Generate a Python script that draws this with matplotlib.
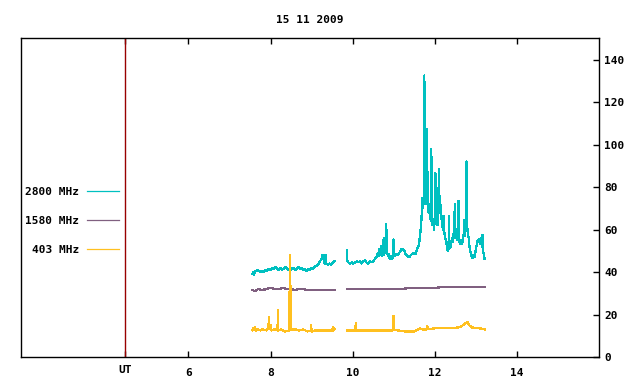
import numpy as np
import matplotlib
matplotlib.use("Agg")
import matplotlib.pyplot as plt
from matplotlib.transforms import ScaledTranslation

title = "15 11 2009"
ut_pos = 4.46
xtick_vals = [6, 8, 10, 12, 14]
ytick_vals = [0, 20, 40, 60, 80, 100, 120, 140]
labels = ["2800 MHz", "1580 MHz", "403 MHz"]
colors = ["#00C0C0", "#806080", "#FFC020"]

# 2800 MHz
t2800 = [7.56, 7.58, 7.60, 7.62, 7.64, 7.68, 7.72, 7.76, 7.80, 7.84, 7.88, 7.92, 7.96, 8.00,
         8.04, 8.08, 8.12, 8.16, 8.20, 8.24, 8.28, 8.32, 8.36, 8.40, 8.44, 8.48, 8.52, 8.56,
         8.60, 8.64, 8.68, 8.72, 8.76, 8.80, 8.84, 8.88, 8.92, 8.96, 9.00, 9.04, 9.08, 9.12,
         9.16, 9.20, 9.24, 9.27, 9.30, 9.32, 9.34, 9.36, 9.40, 9.44, 9.48, 9.52, 9.56,
         9.70,
         9.86, 9.87, 9.90, 9.94, 9.98, 10.02, 10.06, 10.10, 10.14, 10.18, 10.22, 10.26, 10.30,
         10.34, 10.38, 10.42, 10.46, 10.50, 10.54, 10.58, 10.62, 10.64, 10.66, 10.68, 10.70,
         10.72, 10.74, 10.76, 10.78, 10.80, 10.82, 10.84, 10.86, 10.88, 10.90, 10.92, 10.94,
         10.96, 10.99, 11.00, 11.02, 11.06, 11.10, 11.14, 11.18, 11.22, 11.26, 11.30, 11.34,
         11.38, 11.42, 11.46, 11.50, 11.54, 11.58, 11.62, 11.66, 11.68, 11.70, 11.72, 11.74,
         11.75, 11.76, 11.78, 11.80, 11.81, 11.83, 11.85, 11.87, 11.89, 11.91, 11.92, 11.93,
         11.95, 11.97, 11.99, 12.01, 12.02, 12.03, 12.05, 12.07, 12.09, 12.11, 12.12, 12.14,
         12.16, 12.18, 12.20, 12.22, 12.24, 12.26, 12.28, 12.30, 12.32, 12.34, 12.35, 12.36,
         12.38, 12.40, 12.42, 12.44, 12.46, 12.48, 12.49, 12.50, 12.52, 12.54, 12.56, 12.58,
         12.59, 12.61, 12.63, 12.65, 12.67, 12.69, 12.71, 12.72, 12.73, 12.75, 12.77, 12.78,
         12.79, 12.81, 12.83, 12.85, 12.87, 12.89, 12.91, 12.93, 12.95, 12.97, 12.99, 13.01,
         13.03, 13.05, 13.07, 13.09, 13.11, 13.13, 13.15, 13.17, 13.18, 13.20, 13.22]
v2800 = [39.0, 40.0, 38.5, 40.5, 40.5, 41.0, 40.5, 40.0, 40.5, 40.0, 41.0, 40.5, 41.5, 41.0,
         42.0, 41.5, 42.5, 41.5, 41.0, 42.0, 41.0, 41.5, 42.5, 41.5, 41.0, 40.5, 41.5, 42.0,
         41.0, 41.5, 42.5, 41.5, 42.0, 41.0, 41.5, 40.5, 41.5, 41.0, 42.0, 41.5, 42.5, 43.0,
         43.5, 45.0, 46.0, 48.0, 47.0, 44.0, 48.0, 44.0, 43.5, 44.0, 43.5, 44.5, 45.0,
         np.nan,
         50.5, 45.5, 44.5, 44.0, 44.5, 44.0, 44.5, 45.0, 44.5, 45.0, 44.0, 45.0, 45.5,
         44.5, 44.0, 45.0, 44.5, 45.0, 46.0, 47.0, 49.0, 47.5, 51.0, 48.0, 52.0,
         47.5, 55.0, 48.0, 56.0, 49.0, 62.5, 50.0, 47.5, 48.5, 46.5, 46.0, 47.5,
         46.0, 47.0, 55.3, 47.5, 48.5, 48.0, 49.0, 50.5, 51.0, 50.0, 48.0, 47.5,
         47.0, 48.0, 48.5, 49.0, 48.5, 51.0, 53.0, 60.0, 65.0, 75.0, 70.0, 78.0,
         132.5, 80.0, 72.0, 107.5, 75.0, 87.0, 68.0, 72.0, 66.0, 64.0, 98.0, 66.0,
         62.0, 65.0, 60.0, 70.0, 86.5, 64.0, 70.0, 62.0, 74.0, 88.5, 68.0, 72.0,
         66.0, 64.0, 60.0, 66.5, 58.0, 56.0, 55.0, 52.0, 50.0, 52.0, 66.5, 51.0,
         54.0, 52.0, 56.0, 54.0, 58.0, 56.0, 72.0, 57.0, 60.0, 55.0, 59.0, 73.5,
         57.0, 54.0, 53.0, 55.0, 53.0, 56.0, 58.0, 64.5, 57.0, 62.0, 60.0, 92.0,
         62.0, 58.0, 56.0, 52.0, 50.0, 48.0, 47.0, 46.5, 48.0, 47.0, 49.0, 51.0,
         53.0, 55.0, 54.0, 55.5, 53.0, 56.0, 52.0, 57.5, 50.0, 48.0, 46.0]

# 1580 MHz
t1580 = [7.56, 7.62, 7.70, 7.80, 7.90, 8.00, 8.10, 8.20, 8.30, 8.40, 8.50, 8.60, 8.70,
         8.80, 8.90, 9.00, 9.10, 9.20, 9.30, 9.40, 9.50, 9.56,
         9.70,
         9.86, 10.00, 10.20, 10.40, 10.60, 10.80, 11.00, 11.20, 11.40, 11.60, 11.80,
         12.00, 12.20, 12.40, 12.60, 12.80, 13.00, 13.22]
v1580 = [31.5, 31.0, 32.0, 31.5, 32.0, 32.5, 32.0, 32.0, 32.5, 32.0, 32.0, 31.5, 32.0,
         32.0, 31.5, 31.5, 31.5, 31.5, 31.5, 31.5, 31.5, 31.5,
         np.nan,
         32.0, 32.0, 32.0, 32.0, 32.0, 32.0, 32.0, 32.0, 32.5, 32.5, 32.5,
         32.5, 33.0, 33.0, 33.0, 33.0, 33.0, 33.0]

# 403 MHz
t403 = [7.56, 7.58, 7.62, 7.64, 7.70, 7.76, 7.80, 7.90, 7.95, 7.96, 7.97, 8.00, 8.02, 8.10,
        8.17, 8.18, 8.19, 8.25, 8.35, 8.45, 8.48, 8.49, 8.60, 8.70, 8.80, 8.90, 8.98,
        8.99, 9.00, 9.10, 9.20, 9.30, 9.40, 9.50, 9.53, 9.54, 9.56,
        9.70,
        9.86, 9.95, 10.06, 10.08, 10.09, 10.20, 10.40, 10.60, 10.80, 10.98, 11.00, 11.01,
        11.10, 11.30, 11.50, 11.60, 11.65, 11.70, 11.80, 11.82, 11.84, 12.00, 12.20, 12.40,
        12.60, 12.70, 12.76, 12.80, 12.84, 12.90, 13.00, 13.10, 13.22]
v403 = [12.5, 13.5, 14.0, 12.5, 13.0, 12.5, 13.0, 12.5, 13.5, 19.0, 13.0, 15.0, 12.5, 13.0,
        12.5, 22.0, 12.5, 13.0, 12.0, 12.5, 47.8, 13.0, 13.0, 12.5, 13.0, 12.0, 12.5,
        15.0, 12.0, 12.5, 12.5, 12.5, 12.5, 12.5, 14.0, 12.5, 13.0,
        np.nan,
        12.5, 12.5, 12.5, 16.0, 12.5, 12.5, 12.5, 12.5, 12.5, 12.5, 19.5, 13.0,
        12.5, 12.0, 12.0, 13.0, 13.5, 13.0, 13.0, 14.5, 13.0, 13.5, 13.5, 13.5,
        14.0, 15.0, 16.0, 16.5, 15.0, 14.0, 13.5, 13.5, 13.0]

plt.rcParams['font.family'] = ['DejaVu Sans Mono']
plt.rcParams['font.weight'] = 'bold'
plt.rcParams['font.size'] = 8

fig = plt.figure(figsize=(6.4, 3.84), dpi=100)
ax = fig.add_axes([20.7/640, 27/384, 578/640, 318.7/384])

series = [(t2800, v2800), (t1580, v1580), (t403, v403)]
for (t, v), lab, c in zip(series, labels, colors):
    ax.plot(t, v, color=c, lw=0.9, label=lab, antialiased=False)

ax.axvline(ut_pos, color="#980000", lw=1.0)

ax.set_xlim(1.91, 16.0)
ax.set_ylim(0, 150)

ax.set_xticks([ut_pos] + xtick_vals)
ax.set_xticklabels(["UT"] + [str(x) for x in xtick_vals])
ax.yaxis.tick_right()
ax.set_yticks(ytick_vals)
ax.tick_params(axis='x', direction='in', length=4, width=1, top=True, bottom=True, pad=8)
ax.tick_params(axis='y', direction='in', length=4, width=1, left=False, right=True, pad=4)
for s in ax.spines.values():
    s.set_linewidth(1.0)

ut_lab = ax.get_xticklabels()[0]
ut_lab.set_transform(ut_lab.get_transform() + ScaledTranslation(0, 3/100, fig.dpi_scale_trans))

ax.set_title(title, fontsize=8, fontweight='bold', pad=11)

leg = ax.legend(loc='upper left', bbox_to_anchor=(-0.0035, 0.5537), frameon=False,
                markerfirst=False, handlelength=2.9, handletextpad=0.7,
                labelspacing=1.69, fontsize=8, borderaxespad=0.2)
for line in leg.get_lines():
    line.set_linewidth(0.9)

fig.savefig("out.png", dpi=100)
